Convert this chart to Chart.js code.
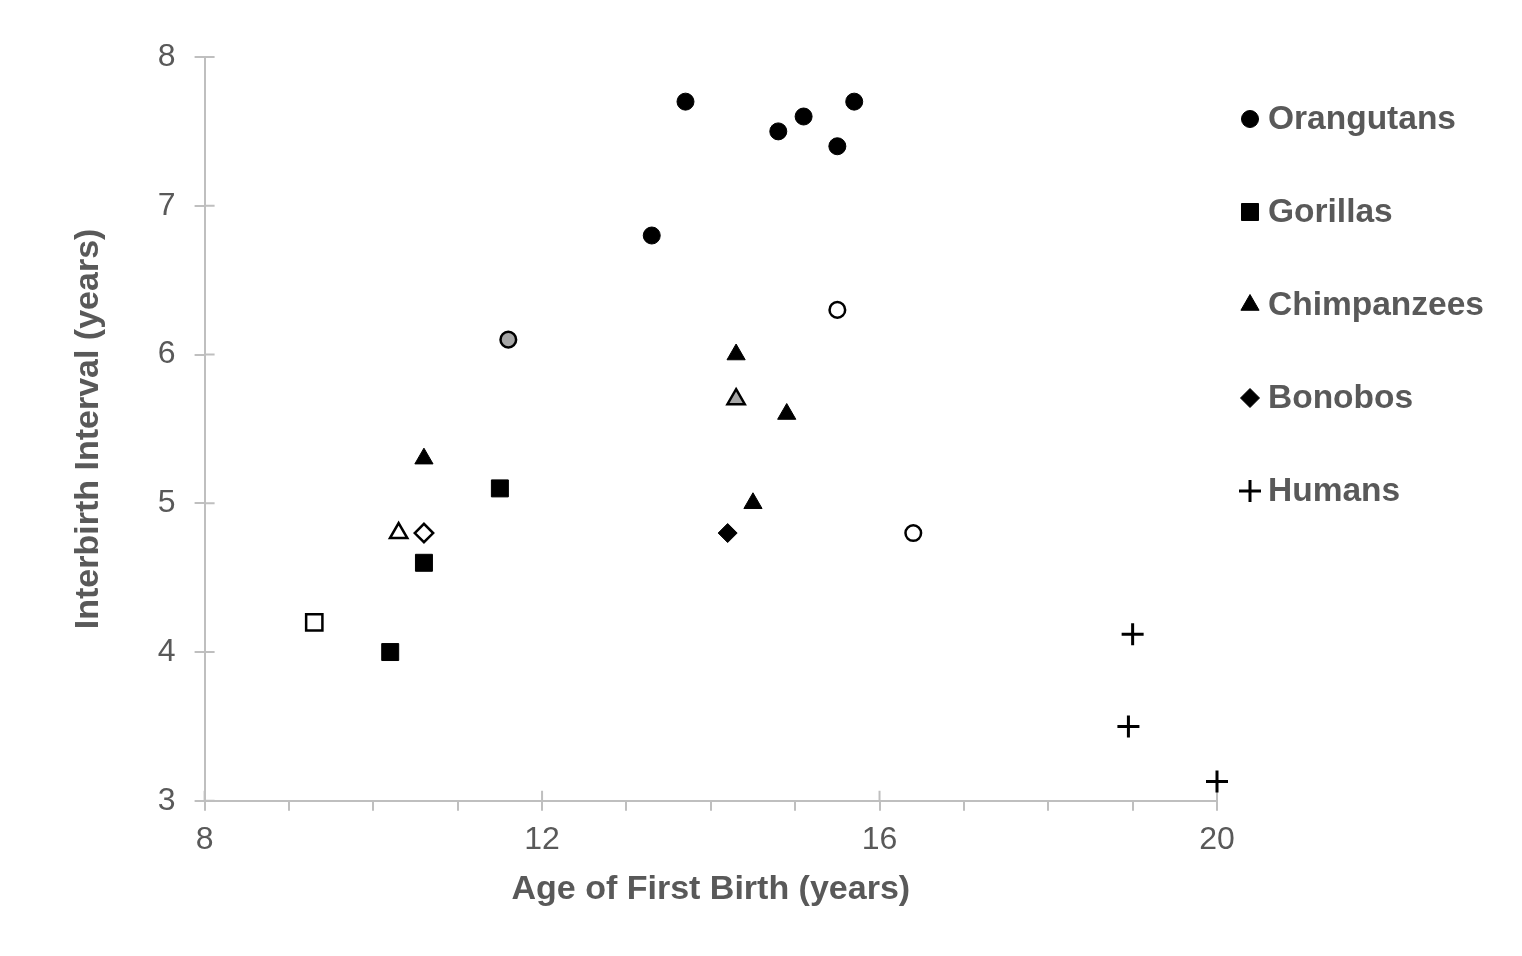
<!DOCTYPE html>
<html>
<head>
<meta charset="utf-8">
<script src="https://cdn.jsdelivr.net/npm/chart.js@4"></script>
<style>
  html, body { margin: 0; padding: 0; background: #fff; }
  #wrap { width: 1522px; height: 956px; }
</style>
</head>
<body>
<div id="wrap"><canvas id="chart"></canvas></div>
<script>
// species shown in the legend
var species = ["Orangutans", "Gorillas", "Chimpanzees", "Bonobos", "Humans"];

// age of first birth (x) / interbirth interval (y), in years
var orangutanX = [13.7, 14.8, 15.1, 15.5, 15.7, 13.3];
var orangutanY = [7.7, 7.5, 7.6, 7.4, 7.7, 6.8];
var orangutanOpenX = [15.5, 16.4];
var orangutanOpenY = [6.3, 4.8];
var orangutanGrayX = [11.6];
var orangutanGrayY = [6.1];

var gorillaX = [10.2, 10.6, 11.5];
var gorillaY = [4.0, 4.6, 5.1];
var gorillaOpenX = [9.3];
var gorillaOpenY = [4.2];

var chimpX = [10.6, 14.3, 14.9, 14.5];
var chimpY = [5.3, 6.0, 5.6, 5.0];
var chimpGrayX = [14.3];
var chimpGrayY = [5.7];
var chimpOpenX = [10.3];
var chimpOpenY = [4.8];

var bonoboX = [14.2];
var bonoboY = [4.8];
var bonoboOpenX = [10.6];
var bonoboOpenY = [4.8];

var humanX = [19.0, 18.95, 20.0];
var humanY = [4.12, 3.5, 3.13];

var xTicks = [8, 12, 16, 20];
var yTicks = [3, 4, 5, 6, 7, 8];

var textGray = "#595959";
var axisGray = "#bfbfbf";
var fontFamily = '"Liberation Sans", Arial, sans-serif';

function toPoints(xs, ys) {
    var pts = [];
    for (let i = 0; i < xs.length; i++) pts.push({x: xs[i], y: ys[i]});
    return pts;
}

// marker look per shape, filled / open / gray
var shapes = {
    circle:   {style: "circle",   filled: 8.5, open: 7.8},
    rect:     {style: "rect",     filled: 12,  open: 11.5},
    triangle: {style: "triangle", filled: 10.5, open: 10},
    rectRot:  {style: "rectRot",  filled: 9.5, open: 9.2},
    cross:    {style: "cross",    filled: 11,  open: 11}
};

function series(label, pts, shape, kind) {
    var s = shapes[shape];
    var bg = kind == "open" ? "#ffffff" : (kind == "gray" ? "#a6a6a6" : "#000000");
    var bw = kind == "filled" ? 1 : 2.5;
    if (shape == "cross") bw = 3;
    return {
        label: label,
        data: pts,
        clip: false,
        pointStyle: s.style,
        pointRadius: kind == "filled" ? s.filled : s.open,
        backgroundColor: bg,
        borderColor: "#000000",
        borderWidth: bw,
        pointBorderWidth: bw
    };
}

var datasets = [
    series("Orangutans", toPoints(orangutanX, orangutanY), "circle", "filled"),
    series("Gorillas", toPoints(gorillaX, gorillaY), "rect", "filled"),
    series("Chimpanzees", toPoints(chimpX, chimpY), "triangle", "filled"),
    series("Bonobos", toPoints(bonoboX, bonoboY), "rectRot", "filled"),
    series("Humans", toPoints(humanX, humanY), "cross", "filled"),
    series("Orangutans (open)", toPoints(orangutanOpenX, orangutanOpenY), "circle", "open"),
    series("Orangutans (gray)", toPoints(orangutanGrayX, orangutanGrayY), "circle", "gray"),
    series("Gorillas (open)", toPoints(gorillaOpenX, gorillaOpenY), "rect", "open"),
    series("Chimpanzees (gray)", toPoints(chimpGrayX, chimpGrayY), "triangle", "gray"),
    series("Chimpanzees (open)", toPoints(chimpOpenX, chimpOpenY), "triangle", "open"),
    series("Bonobos (open)", toPoints(bonoboOpenX, bonoboOpenY), "rectRot", "open")
];

// major ticks in the reference cross the axis line, draw the inner half
var innerTicks = {
    id: "innerTicks",
    beforeDatasetsDraw(chart) {
        var ctx = chart.ctx, area = chart.chartArea, x = chart.scales.x, y = chart.scales.y;
        ctx.save();
        ctx.strokeStyle = axisGray;
        ctx.lineWidth = 2;
        ctx.beginPath();
        for (let v of xTicks) {
            var px = x.getPixelForValue(v);
            ctx.moveTo(px, area.bottom);
            ctx.lineTo(px, area.bottom - 10);
        }
        for (let v of yTicks) {
            var py = y.getPixelForValue(v);
            ctx.moveTo(area.left, py);
            ctx.lineTo(area.left + 10, py);
        }
        ctx.stroke();
        ctx.restore();
    }
};

// legend: one row per species, stacked on the right
var sideLegend = {
    id: "sideLegend",
    afterDraw(chart) {
        var ctx = chart.ctx;
        var left = chart.chartArea.right + 33;
        var top = 119;
        var step = 93;
        ctx.save();
        ctx.font = "bold 33.5px " + fontFamily;
        ctx.textBaseline = "middle";
        ctx.textAlign = "left";
        chart.data.datasets.forEach(function(ds) {
            var i = species.indexOf(ds.label);
            if (i < 0) return;
            var cy = top + i * step;
            ctx.fillStyle = ds.backgroundColor;
            ctx.strokeStyle = ds.borderColor;
            ctx.lineWidth = ds.pointBorderWidth;
            Chart.helpers.drawPoint(ctx, {
                pointStyle: ds.pointStyle,
                radius: ds.pointRadius,
                rotation: 0,
                borderWidth: ds.pointBorderWidth
            }, left, cy);
            ctx.fillStyle = textGray;
            ctx.fillText(ds.label, left + 18, cy + 1);
        });
        ctx.restore();
    }
};

new Chart(document.getElementById("chart"), {
    type: "scatter",
    data: {datasets: datasets},
    plugins: [innerTicks, sideLegend],
    options: {
        responsive: true,
        maintainAspectRatio: false,
        animation: false,
        events: [],
        layout: {padding: {left: 48, right: 305, top: 57, bottom: 45}},
        plugins: {legend: {display: false}, tooltip: {enabled: false}},
        scales: {
            x: {
                type: "linear",
                min: 8,
                max: 20,
                border: {color: axisGray, width: 2},
                grid: {drawOnChartArea: false, drawTicks: true, tickLength: 10, color: axisGray, lineWidth: 2},
                ticks: {
                    stepSize: 1,
                    padding: 10,
                    color: textGray,
                    font: {family: fontFamily, size: 32},
                    callback: function(v) { return xTicks.indexOf(v) >= 0 ? String(v) : ""; }
                },
                title: {
                    display: true,
                    text: "Age of First Birth (years)",
                    color: textGray,
                    font: {family: fontFamily, size: 34, weight: "bold"},
                    padding: {top: 0, bottom: 1}
                }
            },
            y: {
                type: "linear",
                min: 3,
                max: 8,
                border: {color: axisGray, width: 2},
                grid: {drawOnChartArea: false, drawTicks: true, tickLength: 10, color: axisGray, lineWidth: 2},
                ticks: {
                    stepSize: 1,
                    padding: 19,
                    color: textGray,
                    font: {family: fontFamily, size: 32}
                },
                title: {
                    display: true,
                    text: "Interbirth Interval (years)",
                    color: textGray,
                    font: {family: fontFamily, size: 34, weight: "bold"},
                    padding: {top: 20, bottom: 30}
                }
            }
        }
    }
});
</script>
</body>
</html>
